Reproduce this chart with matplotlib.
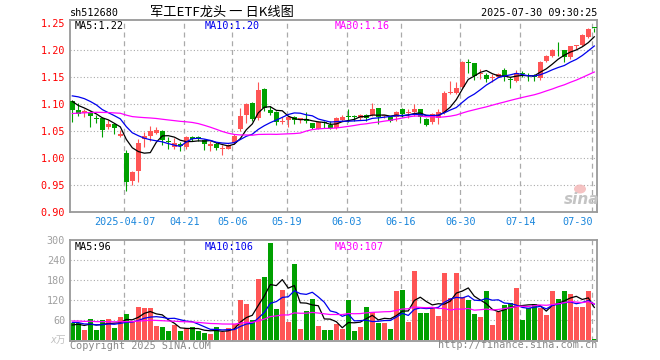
import numpy as np
import pandas as pd
import matplotlib
matplotlib.use("Agg")
import matplotlib.pyplot as plt
from matplotlib.patches import Ellipse

# ---------------- data ----------------
open_ = [1.105, 1.088, 1.083, 1.085, 1.073, 1.074, 1.058, 1.062, 1.041, 1.009,
         0.957, 0.975, 1.035, 1.040, 1.046, 1.050, 1.031, 1.020, 1.025, 1.020,
         1.039, 1.037, 1.033, 1.022, 1.026, 1.017, 1.017, 1.028, 1.053, 1.080,
         1.102, 1.074, 1.128, 1.089, 1.084, 1.066, 1.070, 1.076, 1.072, 1.072,
         1.064, 1.053, 1.066, 1.061, 1.055, 1.071, 1.077, 1.078, 1.074, 1.080,
         1.080, 1.092, 1.077, 1.076, 1.076, 1.090, 1.083, 1.084, 1.090, 1.072,
         1.067, 1.073, 1.084, 1.121, 1.121, 1.131, 1.177, 1.175, 1.155, 1.154,
         1.148, 1.150, 1.162, 1.145, 1.143, 1.157, 1.153, 1.151, 1.148, 1.179,
         1.189, 1.200, 1.199, 1.186, 1.208, 1.209, 1.224, 1.2405]
high = [1.108, 1.102, 1.090, 1.087, 1.080, 1.076, 1.070, 1.064, 1.051, 1.014,
        0.975, 1.034, 1.048, 1.059, 1.057, 1.051, 1.038, 1.036, 1.030, 1.040,
        1.041, 1.040, 1.035, 1.031, 1.029, 1.024, 1.026, 1.044, 1.093, 1.102,
        1.104, 1.141, 1.129, 1.096, 1.087, 1.076, 1.078, 1.077, 1.074, 1.085,
        1.065, 1.069, 1.069, 1.068, 1.075, 1.080, 1.090, 1.080, 1.082, 1.082,
        1.102, 1.093, 1.080, 1.078, 1.087, 1.093, 1.090, 1.100, 1.091, 1.074,
        1.083, 1.090, 1.124, 1.142, 1.141, 1.179, 1.183, 1.175, 1.165, 1.158,
        1.156, 1.158, 1.166, 1.150, 1.162, 1.161, 1.158, 1.155, 1.179, 1.191,
        1.201, 1.214, 1.200, 1.208, 1.210, 1.229, 1.241, 1.2405]
low = [1.067, 1.078, 1.075, 1.057, 1.064, 1.038, 1.053, 1.045, 1.038, 0.938,
       0.950, 0.956, 1.020, 1.031, 1.044, 1.024, 1.016, 1.016, 1.013, 1.016,
       1.031, 1.031, 1.014, 1.012, 1.015, 1.005, 1.016, 1.026, 1.049, 1.064,
       1.069, 1.070, 1.086, 1.080, 1.061, 1.063, 1.057, 1.063, 1.064, 1.064,
       1.053, 1.053, 1.056, 1.053, 1.053, 1.069, 1.067, 1.069, 1.070, 1.068,
       1.078, 1.062, 1.073, 1.067, 1.069, 1.075, 1.074, 1.077, 1.064, 1.059,
       1.062, 1.062, 1.082, 1.119, 1.119, 1.130, 1.157, 1.144, 1.146, 1.140,
       1.141, 1.149, 1.143, 1.130, 1.141, 1.150, 1.142, 1.142, 1.144, 1.177,
       1.187, 1.189, 1.178, 1.183, 1.201, 1.207, 1.222, 1.234]
close = [1.088, 1.082, 1.087, 1.078, 1.072, 1.052, 1.063, 1.055, 1.045, 0.956,
         0.974, 1.028, 1.040, 1.050, 1.052, 1.033, 1.030, 1.027, 1.021, 1.039,
         1.034, 1.036, 1.025, 1.026, 1.018, 1.018, 1.023, 1.041, 1.078, 1.100,
         1.072, 1.126, 1.093, 1.083, 1.066, 1.068, 1.076, 1.070, 1.073, 1.069,
         1.055, 1.066, 1.065, 1.055, 1.073, 1.076, 1.076, 1.076, 1.080, 1.074,
         1.090, 1.075, 1.078, 1.069, 1.084, 1.082, 1.085, 1.090, 1.075, 1.061,
         1.081, 1.085, 1.121, 1.122, 1.130, 1.178, 1.176, 1.152, 1.156, 1.147,
         1.149, 1.156, 1.150, 1.144, 1.158, 1.156, 1.152, 1.150, 1.178, 1.189,
         1.199, 1.199, 1.186, 1.207, 1.209, 1.228, 1.238, 1.240]
volume = [50, 51, 30, 63, 30, 60, 63, 37, 70, 78,
          55, 100, 97, 97, 43, 40, 27, 45, 27, 35,
          38, 27, 20, 18, 40, 25, 35, 48, 120, 108,
          60, 183, 189, 292, 92, 150, 55, 228, 33, 87,
          123, 43, 30, 30, 48, 33, 120, 27, 40, 100,
          83, 51, 51, 33, 147, 150, 55, 208, 82, 82,
          99, 73, 202, 127, 202, 130, 120, 78, 70, 147,
          45, 85, 105, 110, 157, 60, 95, 108, 95, 75,
          147, 123, 147, 138, 100, 100, 147, 3]
# closes / volumes of the sessions before the window (warm-up of the MA lines)
prior_close = [1.06, 1.07, 1.065, 1.055, 1.06, 1.07, 1.075, 1.065, 1.06, 1.055,
               1.06, 1.065, 1.07, 1.08, 1.075, 1.07, 1.065, 1.06, 1.065, 1.07,
               1.10, 1.12, 1.13, 1.135, 1.14, 1.12, 1.11, 1.105, 1.10]
prior_volume = [55, 62, 48, 70, 58, 65, 52, 60, 66, 54,
                57, 63, 50, 61, 68, 55, 59, 64, 52, 62,
                58, 72, 65, 55, 55, 40, 48, 42, 45]

tick_idx = [9, 19, 27, 36, 46, 55, 65, 75, 87]
tick_labels = ["2025-04-07", "04-21", "05-06", "05-19", "06-03",
               "06-16", "06-30", "07-14", "07-30"]
price_ticks = [0.90, 0.95, 1.00, 1.05, 1.10, 1.15, 1.20, 1.25]
vol_ticks = [60, 120, 180, 240, 300]
price_ma_text = ["MA5:1.22", "MA10:1.20", "MA30:1.16"]
vol_ma_text = ["MA5:96", "MA10:106", "MA30:107"]

# ---------------- styling ----------------
plt.rcParams['font.family'] = ['DejaVu Sans Mono', 'Noto Sans CJK SC']
RED = '#ff5555'
GREEN = '#00a000'
MA_COLORS = ['#000000', '#0000ee', '#ff00ff']
GRID = '#aaaaaa'
SPINE = '#999999'
W, H = 660, 360

fig = plt.figure(figsize=(6.6, 3.6), dpi=100)
fig.patch.set_facecolor('white')


def fx(px):
    return px / W


def fy(py):
    return 1 - py / H


L, R = 70, 597
ax = fig.add_axes([fx(L), fy(212), (R - L) / W, (212 - 20) / H])
axv = fig.add_axes([fx(L), fy(341), (R - L) / W, (341 - 240) / H])

n = len(close)
x = np.arange(n)
o = np.array(open_)
h = np.array(high)
l = np.array(low)
c = np.array(close)
colors = np.where(c >= o, RED, GREEN)

xl = ((L - 72.3) / 6.0, (R - 72.3) / 6.0)

# ---- price panel ----
for v in price_ticks[1:-1]:
    ax.axhline(v, color=GRID, lw=0.8, ls=(0, (1, 2)), zorder=0)
for t in tick_idx:
    ax.axvline(t - 0.3, color=GRID, lw=0.9, ls=(0, (4, 3)), zorder=0)

ax.vlines(x, l, h, colors=colors, lw=0.8, zorder=2)
body_bot = np.minimum(o, c)
body_h = np.maximum(np.abs(c - o), 0.0018)
ax.bar(x, body_h, bottom=body_bot, width=0.78, color=colors, lw=0, zorder=3)

cs = pd.Series(prior_close + close)
for w_, col in zip([5, 10, 30], MA_COLORS):
    ma = cs.rolling(w_).mean().iloc[-n:].values
    ax.plot(x, ma, color=col, lw=0.9, zorder=4)

ax.set_xlim(*xl)
ax.set_ylim(0.8995, 1.2555)
ax.set_xticks([])
ax.set_yticks(price_ticks)
ax.set_yticklabels([f"{v:.2f}" for v in price_ticks])
ax.tick_params(axis='y', length=0, pad=3.5, labelsize=7.3, labelcolor='#ff0000')
for s in ax.spines.values():
    s.set_color(SPINE)
    s.set_linewidth(1.3)

for t, lab in zip(tick_idx, tick_labels):
    ha = 'right' if t == tick_idx[-1] else 'center'
    ax.text(t - 0.3 + (0.15 if ha == 'right' else 0), -0.051, lab,
            transform=ax.get_xaxis_transform(), ha=ha, va='center',
            fontsize=7.3, color='#1a86dc')

# ---- volume panel ----
for v in vol_ticks[:-1]:
    axv.axhline(v, color=GRID, lw=0.8, ls=(0, (1, 2)), zorder=0)
for t in tick_idx:
    axv.axvline(t - 0.3, color=GRID, lw=0.9, ls=(0, (4, 3)), zorder=0)
axv.bar(x, volume, width=0.82, color=colors, lw=0, zorder=2)
vs = pd.Series(prior_volume + volume, dtype=float)
for w_, col in zip([5, 10, 30], MA_COLORS):
    ma = vs.rolling(w_).mean().iloc[-n:].values
    axv.plot(x, ma, color=col, lw=0.9, zorder=4)
axv.set_xlim(*xl)
axv.set_ylim(-3, 300)
axv.set_xticks([])
axv.set_yticks(vol_ticks)
axv.set_yticklabels([str(v) for v in vol_ticks])
axv.tick_params(axis='y', length=0, pad=3.5, labelsize=7.3, labelcolor='#a0a0a0')
for s in axv.spines.values():
    s.set_color(SPINE)
    s.set_linewidth(1.3)

# ---- texts ----
fig.text(fx(70), fy(13), "sh512680", ha='left', va='center', fontsize=7.3, color='black')
fig.text(fx(150), fy(12), "军工ETF龙头 一 日K线图", ha='left', va='center', fontsize=9.5,
         color='black', family=['Noto Sans CJK SC', 'DejaVu Sans'])
fig.text(fx(597), fy(13), "2025-07-30 09:30:25", ha='right', va='center', fontsize=7.3,
         color='black')

for txt, xp, col in zip(price_ma_text, [75, 205, 335], MA_COLORS):
    fig.text(fx(xp), fy(26), txt, ha='left', va='center', fontsize=7.3, color=col)
for txt, xp, col in zip(vol_ma_text, [75, 205, 335], MA_COLORS):
    fig.text(fx(xp), fy(246.5), txt, ha='left', va='center', fontsize=7.3, color=col)

fig.text(fx(66), fy(340), "x万", ha='right', va='center', fontsize=7, color='#c0c0c0',
         style='italic', family=['DejaVu Sans Mono', 'Noto Sans CJK SC'])
fig.text(fx(70), fy(346), "Copyright 2025 SINA.COM", ha='left', va='center',
         fontsize=7.3, color='#888888')
fig.text(fx(597), fy(345.5), "http://finance.sina.com.cn", ha='right', va='center',
         fontsize=7.3, color='#888888')

# sina watermark
fig.patches.append(Ellipse((fx(580), fy(189)), 12 / W, 9 / H, transform=fig.transFigure,
                           facecolor='#f3b4b4', edgecolor='none', alpha=0.8))
fig.text(fx(582), fy(199), "sina", ha='center', va='center', fontsize=11,
         style='italic', weight='bold', color='#c4c4c4', family='DejaVu Sans')

fig.savefig("out.png", dpi=100, facecolor='white')
